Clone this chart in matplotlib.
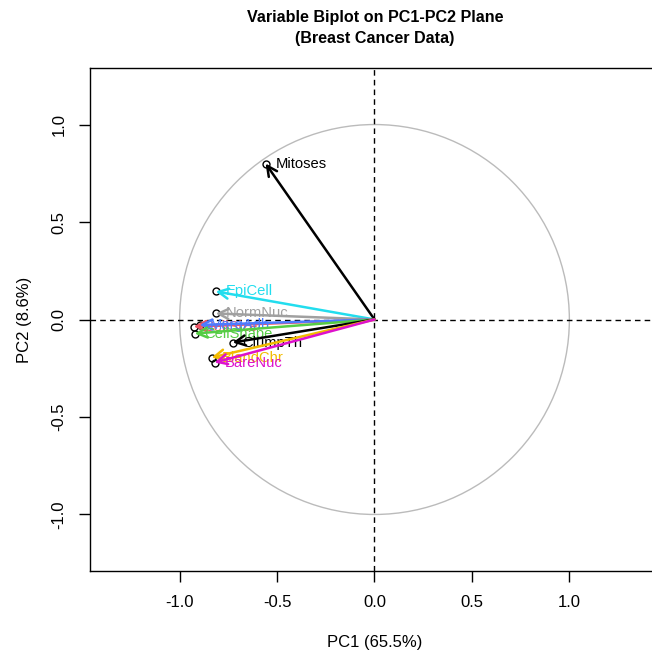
import numpy as np
import matplotlib.pyplot as plt
from matplotlib.patches import Circle

plt.rcParams['font.family'] = ['Liberation Sans', 'DejaVu Sans']

# variable loadings on PC1/PC2
variables = ['Mitoses', 'EpiCell', 'NormNuc', 'CellSize', 'MargAdh',
             'CellShape', 'ClumpTh', 'BlandChr', 'BareNuc']
pc1 = [-0.559, -0.815, -0.815, -0.928, -0.897, -0.923, -0.728, -0.836, -0.821]
pc2 = [0.800, 0.144, 0.031, -0.036, -0.028, -0.072, -0.118, -0.195, -0.221]
colors = ['black', '#22DDEE', '#A0A0A0', '#EE5566', '#4C7BFF',
          '#55CC44', 'black', '#F2BB00', '#DD11CC']

fig = plt.figure(figsize=(6.52, 6.53), dpi=100)
ax = fig.add_axes([90/652, 82/653, 569/652, 503/653])

ax.add_patch(Circle((0, 0), 1, fill=False, edgecolor='#BBBBBB', lw=1))
ax.axhline(0, color='black', ls='--', lw=1, dashes=(4, 3))
ax.axvline(0, color='black', ls='--', lw=1, dashes=(4, 3))

for name, x, y, c in zip(variables, pc1, pc2, colors):
    ax.annotate('', xy=(x, y), xytext=(0, 0),
                arrowprops=dict(arrowstyle='->', color=c, lw=1.8,
                                mutation_scale=18, shrinkA=0, shrinkB=0))
    ax.plot(x, y, 'o', mfc='none', mec='black', ms=5, mew=1)
    ax.text(x + 0.05, y, name, color=c, fontsize=10.6, ha='left', va='center')

ax.set_xlim(-1.46, 1.46)
ax.set_ylim(-1.29, 1.29)
ax.set_xticks([-1.0, -0.5, 0.0, 0.5, 1.0])
ax.set_yticks([-1.0, -0.5, 0.0, 0.5, 1.0])
ax.set_xticklabels(['-1.0', '-0.5', '0.0', '0.5', '1.0'])
ax.set_yticklabels(['-1.0', '-0.5', '0.0', '0.5', '1.0'], rotation=90, va='center')
ax.tick_params(direction='out', length=8, width=1, labelsize=12, pad=9)
for s in ax.spines.values():
    s.set_linewidth(1)

ax.set_xlabel('PC1 (65.5%)', fontsize=12, labelpad=18)
ax.set_ylabel('PC2 (8.6%)', fontsize=12, labelpad=14)
fig.text(375/652, 1 - 28/653, 'Variable Biplot on PC1-PC2 Plane\n(Breast Cancer Data)',
         ha='center', va='center', fontsize=11.6, fontweight='bold', linespacing=1.5)

fig.savefig('out.png', dpi=100)
